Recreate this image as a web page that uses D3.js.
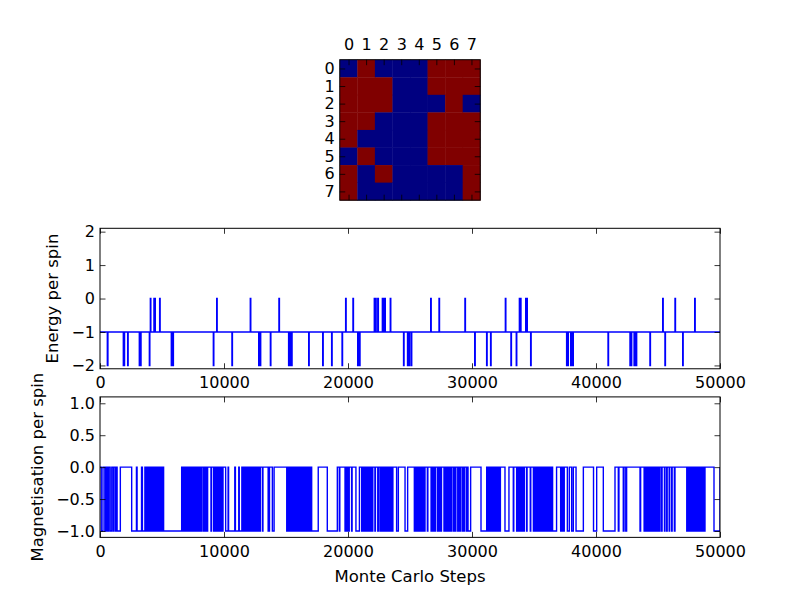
<!DOCTYPE html>
<html>
<head>
<meta charset="utf-8">
<script src="https://cdn.jsdelivr.net/npm/d3@7"></script>
<style>
  body { margin: 0; background: #fff; }
  text { font-family: "DejaVu Sans", sans-serif; }
</style>
</head>
<body>
<svg id="chart" width="800" height="597"></svg>
<script>
// ---------- data ----------
// spin lattice, 0 = down (blue), 1 = up (red)
const spins = [
    [0, 1, 0, 0, 0, 1, 1, 1],
    [1, 1, 1, 0, 0, 1, 1, 1],
    [1, 1, 1, 0, 0, 0, 1, 0],
    [1, 1, 0, 0, 0, 1, 1, 1],
    [1, 0, 0, 0, 0, 1, 1, 1],
    [0, 1, 0, 0, 0, 1, 1, 1],
    [1, 0, 1, 0, 0, 0, 0, 1],
    [1, 0, 0, 0, 0, 0, 0, 1]
];
const latticeTicks = [0, 1, 2, 3, 4, 5, 6, 7];

// energy sits at -1, with short excursions
const energyBase = -1;
const energyDown = [ // [start, end] at -2
    [590, 640], [1880, 1920], [1940, 1980], [2230, 2270], [3170, 3210], [3260, 3310], [3980, 4020],
    [5750, 5790], [5870, 5920], [9140, 9180], [10640, 10680], [12800, 12840], [12910, 12960],
    [13740, 13780], [15210, 15250], [15330, 15370], [15440, 15490], [16830, 16870], [17960, 18000],
    [18680, 18720], [19520, 19560], [20780, 20820], [20920, 20970], [24480, 24520], [24800, 24840],
    [24920, 24960], [25090, 25140], [30220, 30260], [31180, 31220], [31500, 31540], [33140, 33180],
    [33570, 33610], [34730, 34770], [37630, 37670], [37720, 37770], [37960, 38000], [38080, 38170],
    [40970, 41010], [42740, 42780], [42840, 42880], [43070, 43110], [43180, 43280], [44350, 44390],
    [45560, 45600], [46990, 47030]
];
const energyUp = [ // [start, end] at 0
    [4060, 4100], [4350, 4390], [4420, 4460], [4810, 4850], [9410, 9450], [12120, 12160],
    [14430, 14470], [19810, 19850], [20400, 20440], [22120, 22160], [22230, 22270], [22400, 22450],
    [22770, 22810], [22920, 23010], [23410, 23450], [26670, 26710], [27340, 27380], [29430, 29470],
    [32690, 32730], [33820, 33860], [33910, 33950], [34330, 34370], [34420, 34460], [45380, 45420],
    [46370, 46410], [47960, 48000]
];

// magnetisation sits at 0, with these stretches at -1
const magDown = [
    [100, 240], [390, 460], [520, 600], [640, 700], [820, 950], [1070, 1120], [1250, 1300], [1380, 1640],
    [2554, 2940], [2990, 3350], [3420, 3620],
    [3700, 3760], [3840, 3900], [3990, 4050], [4130, 4190], [4280, 4330], [4420, 4480], [4560, 4620],
    [4700, 4760], [4850, 4900], [4990, 5050], [5130, 6586],
    [6660, 6720], [6800, 6860], [6940, 7000], [7080, 7140], [7220, 7280], [7360, 7420], [7500, 7560],
    [7600, 7650], [7700, 7790],
    [7880, 7940], [8020, 8080], [8160, 8200], [8330, 8390], [8470, 8530], [8620, 8680], [8950, 8990],
    [9160, 9220], [9300, 9360], [9440, 9500], [9580, 9640], [9720, 9780], [9860, 9920],
    [10134, 10330], [10370, 10870], [10920, 11190], [11230, 11440],
    [11500, 11560], [11640, 11700], [11780, 11840], [11920, 11980], [12060, 12120], [12200, 12260],
    [12340, 12400], [12480, 12540], [12620, 12680], [12740, 12780],
    [12880, 12930], [13100, 13140], [13560, 13670], [13900, 14040],
    [15060, 15120], [15200, 15260], [15340, 15400], [15500, 15560], [15640, 15700], [15780, 15840],
    [15920, 15980], [16060, 16100], [16200, 16260], [16340, 16400], [16480, 16540], [16620, 16680],
    [16780, 16840], [16920, 16980],
    [17070, 17600], [18330, 19140], [19300, 19340],
    [19760, 19820], [19900, 19960], [20040, 20100], [20290, 20330], [20640, 20920],
    [21100, 21160], [21240, 21300], [21380, 21440], [21520, 21580], [21660, 21720], [21800, 21860],
    [21940, 22000], [22170, 22210], [22400, 22450],
    [22580, 22640], [22720, 22780], [22860, 22920], [23000, 23060], [23140, 23200], [23280, 23340],
    [23420, 23480], [23560, 23620],
    [23920, 24060], [24600, 24810],
    [25350, 25410], [25490, 25550], [25630, 25690], [25770, 25830], [25910, 25970], [26050, 26110],
    [26170, 26210], [26400, 26440],
    [26700, 26760], [26840, 26900], [26980, 27040], [27200, 27260], [27340, 27400], [27480, 27540],
    [27740, 27800], [27880, 27940], [28020, 28080], [28160, 28220], [28300, 28360],
    [28500, 28560], [28640, 28700], [28850, 28910], [29000, 29060], [29200, 29260], [29340, 29400],
    [29550, 29610], [29680, 29890], [30726, 31183],
    [31250, 31310], [31390, 31450], [31530, 31590], [31670, 31730], [31810, 31870], [31950, 32010],
    [32090, 32150], [32230, 32290],
    [32660, 32980], [33330, 33370],
    [33600, 33660], [33740, 33800], [33880, 33940], [34020, 34080], [34160, 34220],
    [34400, 34440], [34700, 34740],
    [34950, 35010], [35090, 35150], [35230, 35290], [35370, 35430], [35510, 35570], [35650, 35710],
    [35790, 35850], [35930, 35990], [36070, 36130], [36210, 36270], [36350, 36410],
    [36500, 36820],
    [37150, 37200], [37280, 37330], [37400, 37440],
    [37690, 37850], [38040, 38170], [38390, 38980],
    [39800, 40054], [40591, 41532],
    [41800, 41850], [42200, 42260], [42400, 42470],
    [43550, 43600], [43880, 43950],
    [44000, 44060], [44140, 44200], [44280, 44340], [44420, 44480], [44560, 44620], [44700, 44760],
    [44840, 44900], [44980, 45040], [45100, 45160],
    [45290, 45330], [45520, 45560],
    [45700, 45740], [45900, 45940], [46100, 46140], [46320, 46370],
    [47320, 47380], [47440, 47500], [47560, 47620], [47680, 47740], [47800, 47860], [47920, 47980],
    [48040, 48100], [48160, 48220], [48280, 48340], [48400, 48460], [48520, 48580], [48640, 48700],
    [48740, 48790],
    [49516, 50000]
];

const stepTicks = [0, 10000, 20000, 30000, 40000, 50000];
const energyTicks = [-2, -1, 0, 1, 2];
const magTicks = [-1.0, -0.5, 0.0, 0.5, 1.0];
const energyDomain = [-2.1, 2.1];
const magDomain = [-1.1, 1.1];
const stepDomain = [0, 50000];

// ---------- layout ----------
const svg = d3.select("#chart");
const left = 100, right = 720;
const axH = 140.47;
const axTops = [59.7, 228.3, 396.9];
const tickFont = 16;
const labelFont = 16.5;
const tickLen = 5.5;
const minus = s => s.replace("-", "\u2212");

svg.append("rect").attr("width", 800).attr("height", 597).attr("fill", "#fff");

// ---------- lattice ----------
const mx0 = (left + right) / 2 - axH / 2;
const my0 = axTops[0];
const cx = d3.scaleBand().domain(latticeTicks).range([mx0, mx0 + axH]);
const cy = d3.scaleBand().domain(latticeTicks).range([my0, my0 + axH]);
const spinColor = d3.scaleOrdinal().domain([0, 1]).range(["#000080", "#800000"]);

const cells = spins.flatMap((row, r) => row.map((v, c) => ({ r, c, v })));
svg.append("g").selectAll("rect").data(cells).join("rect")
    .attr("x", d => cx(d.c)).attr("y", d => cy(d.r))
    .attr("width", cx.bandwidth() + 0.4).attr("height", cy.bandwidth() + 0.4)
    .attr("fill", d => spinColor(d.v));

const latAxisX = d3.scaleLinear().domain([-0.5, 7.5]).range([mx0, mx0 + axH]);
const latAxisY = d3.scaleLinear().domain([-0.5, 7.5]).range([my0, my0 + axH]);

function frameAxes(g, xs, ys, x0, y0, w, h, xLabelsTop, xFmt, yFmt, xTicks, yTicks, xPad, yPad) {
    const style = sel => {
        sel.select(".domain").remove();
        sel.selectAll("line").attr("stroke", "#000").attr("stroke-width", 0.8);
        sel.selectAll("text").attr("font-size", tickFont).attr("fill", "#000")
            .style("font-family", "'DejaVu Sans', sans-serif");
    };
    // bottom / top
    g.append("g").attr("transform", `translate(0,${y0 + h})`)
        .call(d3.axisBottom(xs).tickValues(xTicks).tickSizeInner(-tickLen).tickSizeOuter(0)
            .tickPadding(xPad).tickFormat(xLabelsTop ? "" : xFmt)).call(style);
    g.append("g").attr("transform", `translate(0,${y0})`)
        .call(d3.axisTop(xs).tickValues(xTicks).tickSizeInner(-tickLen).tickSizeOuter(0)
            .tickPadding(xPad).tickFormat(xLabelsTop ? xFmt : "")).call(style);
    // left / right
    g.append("g").attr("transform", `translate(${x0},0)`)
        .call(d3.axisLeft(ys).tickValues(yTicks).tickSizeInner(-tickLen).tickSizeOuter(0)
            .tickPadding(yPad).tickFormat(yFmt)).call(style);
    g.append("g").attr("transform", `translate(${x0 + w},0)`)
        .call(d3.axisRight(ys).tickValues(yTicks).tickSizeInner(-tickLen).tickSizeOuter(0)
            .tickFormat("")).call(style);
    g.append("rect").attr("x", x0).attr("y", y0).attr("width", w).attr("height", h)
        .attr("fill", "none").attr("stroke", "#000").attr("stroke-width", 1);
}

frameAxes(svg.append("g"), latAxisX, latAxisY, mx0, my0, axH, axH, true,
    d => String(d), d => String(d), latticeTicks, latticeTicks, 10, 5);

// ---------- shared x scale ----------
const x = d3.scaleLinear().domain(stepDomain).range([left, right]);

// ---------- energy ----------
const ey0 = axTops[1];
const yE = d3.scaleLinear().domain(energyDomain).range([ey0 + axH, ey0]);

const energySpikes = [
    ...energyDown.map(([a, b]) => ({ a, b, v: -2 })),
    ...energyUp.map(([a, b]) => ({ a, b, v: 0 }))
].sort((p, q) => p.a - q.a);

const energyPts = [[stepDomain[0], energyBase]];
energySpikes.forEach(s => {
    energyPts.push([s.a, energyBase], [s.a, s.v], [s.b, s.v], [s.b, energyBase]);
});
energyPts.push([stepDomain[1], energyBase]);

svg.append("clipPath").attr("id", "clipE").append("rect")
    .attr("x", left).attr("y", ey0).attr("width", right - left).attr("height", axH);

const lineE = d3.line().x(d => x(d[0])).y(d => yE(d[1]));
svg.append("path").datum(energyPts)
    .attr("clip-path", "url(#clipE)")
    .attr("d", lineE).attr("fill", "none").attr("stroke", "#0000ff").attr("stroke-width", 1.4);

frameAxes(svg.append("g"), x, yE, left, ey0, right - left, axH, false,
    d => String(d), d => minus(String(d)), stepTicks, energyTicks, 8, 5);

svg.append("text")
    .attr("transform", `translate(58,${ey0 + axH / 2}) rotate(-90)`)
    .attr("text-anchor", "middle").attr("font-size", labelFont)
    .text("Energy per spin");

// ---------- magnetisation ----------
const my1 = axTops[2];
const yM = d3.scaleLinear().domain(magDomain).range([my1 + axH, my1]);

const magPts = [[stepDomain[0], 0]];
magDown.forEach(([a, b]) => {
    magPts.push([a, 0], [a, -1], [b, -1], [b, 0]);
});
if (magDown[magDown.length - 1][1] < stepDomain[1]) magPts.push([stepDomain[1], 0]);

svg.append("clipPath").attr("id", "clipM").append("rect")
    .attr("x", left).attr("y", my1).attr("width", right - left).attr("height", axH);

const lineM = d3.line().x(d => x(d[0])).y(d => yM(d[1]));
svg.append("path").datum(magPts)
    .attr("clip-path", "url(#clipM)")
    .attr("d", lineM).attr("fill", "none").attr("stroke", "#0000ff").attr("stroke-width", 1.4);

frameAxes(svg.append("g"), x, yM, left, my1, right - left, axH, false,
    d => String(d), d => minus(d3.format(".1f")(d)), stepTicks, magTicks, 8, 5);

svg.append("text")
    .attr("transform", `translate(42.5,${my1 + axH / 2}) rotate(-90)`)
    .attr("text-anchor", "middle").attr("font-size", labelFont)
    .text("Magnetisation per spin");

svg.append("text")
    .attr("x", (left + right) / 2).attr("y", 581.5)
    .attr("text-anchor", "middle").attr("font-size", labelFont)
    .text("Monte Carlo Steps");
</script>
</body>
</html>
